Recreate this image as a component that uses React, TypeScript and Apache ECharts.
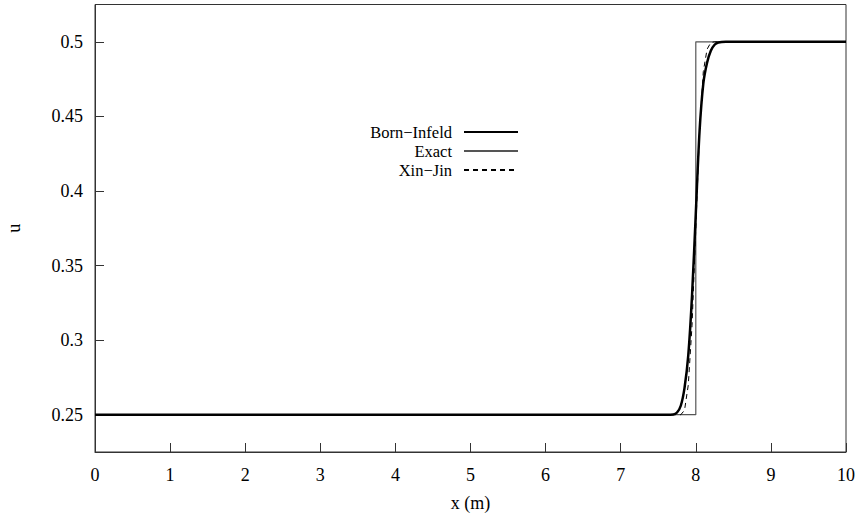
import React, { useEffect, useRef } from "react";
import * as echarts from "echarts";

const xTicks = [0, 1, 2, 3, 4, 5, 6, 7, 8, 9, 10];
const yTicks = [0.25, 0.3, 0.35, 0.4, 0.45, 0.5];

const bornInfeldX = [0, 7.6, 7.7, 7.75, 7.8, 7.85, 7.9, 7.95, 8.0, 8.05, 8.1, 8.15, 8.2, 8.25, 8.3, 8.4, 10];
const bornInfeldU = [0.25, 0.25, 0.2502, 0.2515, 0.256, 0.268, 0.29, 0.33, 0.385, 0.44, 0.472, 0.486, 0.494, 0.498, 0.4995, 0.5, 0.5];

const exactX = [0, 8, 8, 10];
const exactU = [0.25, 0.25, 0.5, 0.5];

const xinJinX = [0, 7.8, 7.85, 7.9, 7.95, 8.0, 8.05, 8.1, 8.15, 8.2, 8.25, 10];
const xinJinU = [0.25, 0.25, 0.253, 0.27, 0.31, 0.375, 0.44, 0.48, 0.495, 0.4995, 0.5, 0.5];

const seriesNames = ["Born\u2212Infeld", "Exact", "Xin\u2212Jin"];

const zip = (xs: number[], ys: number[]) => xs.map((x, i) => [x, ys[i]]);

const FONT = "Liberation Serif";

export default function App() {
  const ref = useRef<HTMLDivElement>(null);
  useEffect(() => {
    if (!ref.current) return;
    const chart = echarts.init(ref.current, undefined, { renderer: "svg" });
    const legendRows = [122.5, 141.5, 160.5];
    chart.setOption({
      animation: false,
      backgroundColor: "#fff",
      textStyle: { fontFamily: FONT },
      grid: {
        left: 95,
        right: 14,
        top: 4.5,
        bottom: 66,
        outerBoundsMode: "none",
        containLabel: false,
        show: true,
        borderColor: "#333",
        borderWidth: 1,
        backgroundColor: "transparent",
      },
      legend: seriesNames.map((n, i) => ({
        data: [n],
        orient: "vertical",
        align: "right",
        right: 341,
        top: legendRows[i],
        padding: 0,
        itemWidth: 54,
        itemHeight: 14,
        selectedMode: false,
        itemStyle: { opacity: 0 },
        textStyle: { fontFamily: FONT, fontSize: 16.5, lineHeight: 19, color: "#000", padding: [0, 7, 0, 0] },
      })),
      xAxis: {
        type: "value",
        min: 0,
        max: 10,
        interval: 1,
        name: "x (m)",
        nameLocation: "middle",
        nameGap: 42,
        nameTextStyle: { fontFamily: FONT, fontSize: 18, color: "#000" },
        axisLine: { show: true, onZero: false, lineStyle: { color: "#333", width: 1 } },
        axisTick: { show: true, inside: true, length: 9, lineStyle: { color: "#333" }, customValues: xTicks },
        axisLabel: {
          fontFamily: FONT,
          fontSize: 18,
          color: "#000",
          margin: 14,
          customValues: xTicks,
          formatter: (v: number) => String(v),
        },
        splitLine: { show: false },
      },
      yAxis: {
        type: "value",
        min: 0.225,
        max: 0.525,
        name: "u",
        nameLocation: "middle",
        nameGap: 72,
        nameRotate: 90,
        nameTextStyle: { fontFamily: FONT, fontSize: 18, color: "#000" },
        axisLine: { show: true, onZero: false, lineStyle: { color: "#333", width: 1 } },
        axisTick: { show: true, inside: true, length: 9, lineStyle: { color: "#333" }, customValues: yTicks },
        axisLabel: {
          fontFamily: FONT,
          fontSize: 18,
          color: "#000",
          margin: 12,
          customValues: yTicks,
          formatter: (v: number) => String(Math.round(v * 100) / 100),
        },
        splitLine: { show: false },
      },
      series: [
        {
          name: seriesNames[1],
          type: "line",
          data: zip(exactX, exactU),
          showSymbol: false,
          symbol: "none",
          lineStyle: { color: "#555", width: 1.2 },
          itemStyle: { color: "#555" },
          z: 3,
        },
        {
          name: seriesNames[2],
          type: "line",
          data: zip(xinJinX, xinJinU),
          showSymbol: false,
          symbol: "none",
          lineStyle: { color: "#000", width: 1, type: [5, 4] },
          itemStyle: { color: "#000" },
          z: 4,
        },
        {
          name: seriesNames[0],
          type: "line",
          data: zip(bornInfeldX, bornInfeldU),
          showSymbol: false,
          symbol: "none",
          smooth: 0.3,
          lineStyle: { color: "#000", width: 2.5 },
          itemStyle: { color: "#000" },
          z: 5,
        },
      ],
    });
    return () => chart.dispose();
  }, []);
  return <div ref={ref} style={{ width: 860, height: 518, position: "absolute", left: 0, top: 0 }} />;
}
